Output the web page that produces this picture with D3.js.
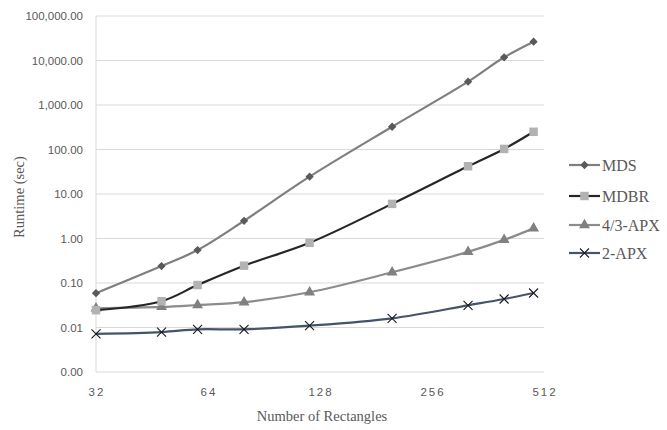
<!DOCTYPE html>
<html>
<head>
<meta charset="utf-8">
<script src="https://cdn.jsdelivr.net/npm/d3@7"></script>
<style>
  body { margin: 0; background: #fff; }
  svg text { fill: #595959; }
  .tick-y { font-family: "Liberation Sans", Arial, sans-serif; font-size: 11.5px; }
  .tick-x { font-family: "Liberation Sans", Arial, sans-serif; font-size: 11.5px; letter-spacing: 2px; }
  .title { font-family: "Liberation Serif", serif; font-size: 14.5px; }
  .legend { font-family: "Liberation Serif", serif; font-size: 16px; }
</style>
</head>
<body>
<div id="viz"></div>
<script>
var width = 667;
var height = 430;

// rectangles per instance
var sizes = [32, 48, 60, 80, 120, 200, 320, 400, 480];

// runtimes in seconds
var mds    = [0.059, 0.24, 0.55, 2.5, 24.5, 325, 3340, 11800, 26500];
var mdbr   = [0.0245, 0.039, 0.09, 0.245, 0.8, 6.0, 42, 103, 250];
var apx43  = [0.027, 0.029, 0.032, 0.037, 0.062, 0.174, 0.5, 0.93, 1.69];
var apx2   = [0.0072, 0.0079, 0.0091, 0.0091, 0.011, 0.0161, 0.0315, 0.0437, 0.0596];

var seriesNames = ["MDS", "MDBR", "4/3-APX", "2-APX"];
var xTicks = [32, 64, 128, 256, 512];
var yTicks = [0.001, 0.01, 0.1, 1, 10, 100, 1000, 10000, 100000];

var series = [
  {name: seriesNames[0], values: mds,   line: "#7f7f7f", mark: "#595959", sym: d3.symbolDiamond2, size: 44},
  {name: seriesNames[1], values: mdbr,  line: "#262626", mark: "#b2b2b2", sym: d3.symbolSquare,   size: 72},
  {name: seriesNames[2], values: apx43, line: "#8c8c8c", mark: "#808080", sym: d3.symbolTriangle, size: 52},
  {name: seriesNames[3], values: apx2,  line: "#44546a", mark: "#1a1a1a", sym: "x",              size: 0}
];

var svg = d3.select("#viz").append("svg")
  .attr("width", width)
  .attr("height", height);

var x = d3.scaleLog().base(2).domain([32, 512]).range([96, 544]);
var y = d3.scaleLog().domain([0.001, 100000]).range([372, 16]);

// gridlines
svg.append("g").selectAll("line")
  .data(yTicks)
  .enter().append("line")
  .attr("x1", 96).attr("x2", 544)
  .attr("y1", function(d){ return y(d); })
  .attr("y2", function(d){ return y(d); })
  .attr("stroke", "#d9d9d9")
  .attr("stroke-width", 1);

svg.append("line")
  .attr("x1", 96).attr("x2", 96)
  .attr("y1", 16).attr("y2", 372)
  .attr("stroke", "#d9d9d9");

// y tick labels
var fmt = d3.format(",.2f");
svg.append("g").selectAll("text")
  .data(yTicks)
  .enter().append("text")
  .attr("class", "tick-y")
  .attr("x", 83)
  .attr("y", function(d){ return y(d); })
  .attr("dy", "0.35em")
  .attr("text-anchor", "end")
  .text(function(d){ return fmt(d); });

// x tick labels
svg.append("g").selectAll("text")
  .data(xTicks)
  .enter().append("text")
  .attr("class", "tick-x")
  .attr("x", function(d){ return x(d) + 1; })
  .attr("y", 396)
  .attr("text-anchor", "middle")
  .text(function(d){ return d; });

// axis titles
svg.append("text")
  .attr("class", "title")
  .attr("x", 322)
  .attr("y", 421)
  .attr("text-anchor", "middle")
  .text("Number of Rectangles");

svg.append("text")
  .attr("class", "title")
  .attr("transform", "translate(24,197) rotate(-90)")
  .attr("text-anchor", "middle")
  .text("Runtime (sec)");

var line = d3.line()
  .x(function(d){ return x(d[0]); })
  .y(function(d){ return y(d[1]); })
  .curve(d3.curveCatmullRom.alpha(0.5));

function drawMarker(g, s, cx, cy) {
  if (s.sym === "x") {
    var r = 4.5;
    g.append("path")
      .attr("d", "M" + (cx - r) + "," + (cy - r) + "L" + (cx + r) + "," + (cy + r) +
                 "M" + (cx - r) + "," + (cy + r) + "L" + (cx + r) + "," + (cy - r))
      .attr("stroke", s.mark)
      .attr("stroke-width", 1.1)
      .attr("fill", "none");
  } else {
    g.append("path")
      .attr("d", d3.symbol().type(s.sym).size(s.size)())
      .attr("transform", "translate(" + cx + "," + cy + ")")
      .attr("fill", s.mark);
  }
}

// series, drawn bottom-up so MDS ends on top
series.slice().reverse().forEach(function(s){
  var pts = sizes.map(function(n, i){ return [n, s.values[i]]; });
  var g = svg.append("g");
  g.append("path")
    .attr("d", line(pts))
    .attr("fill", "none")
    .attr("stroke", s.line)
    .attr("stroke-width", 2.2);
  pts.forEach(function(p){
    drawMarker(g, s, x(p[0]), y(p[1]));
  });
});

// legend
var legendY = [165, 196, 225, 253];
series.forEach(function(s, i){
  var g = svg.append("g");
  var ly = legendY[i];
  g.append("line")
    .attr("x1", 569).attr("x2", 600)
    .attr("y1", ly).attr("y2", ly)
    .attr("stroke", s.line)
    .attr("stroke-width", 2.2);
  drawMarker(g, s, 584.5, ly);
  g.append("text")
    .attr("class", "legend")
    .attr("x", 602)
    .attr("y", ly)
    .attr("dy", "0.35em")
    .text(s.name);
});
</script>
</body>
</html>
